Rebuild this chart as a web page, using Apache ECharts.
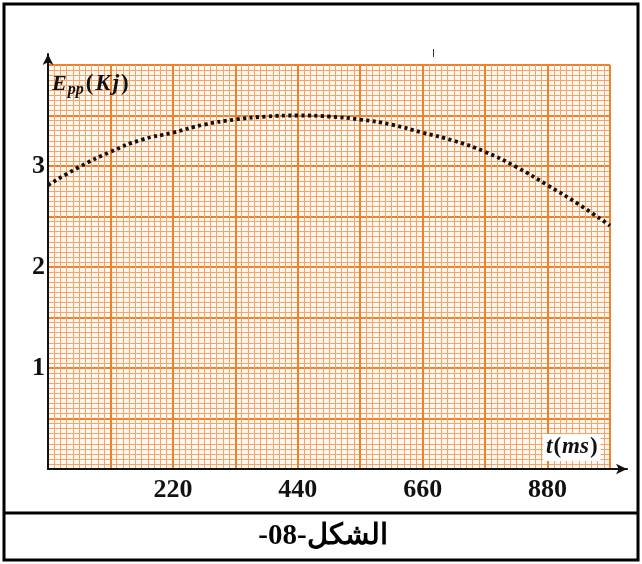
<!DOCTYPE html>
<html>
<head>
<meta charset="utf-8">
<script src="https://cdn.jsdelivr.net/npm/echarts@6/dist/echarts.min.js"></script>
<style>
  html, body { margin: 0; padding: 0; background: #ffffff; }
  #chart { width: 642px; height: 564px; }
</style>
</head>
<body>
<div id="chart"></div>
<script>
// ---- data ----
const times = [0, 55, 110, 165, 220, 275, 330, 385, 440, 495, 550, 605, 660, 715, 770, 825, 880, 935, 990];
const energy = [2.81, 2.99, 3.14, 3.26, 3.33, 3.41, 3.46, 3.49, 3.50, 3.49, 3.46, 3.41, 3.33, 3.25, 3.14, 2.99, 2.81, 2.62, 2.41];
const xTickLabels = [220, 440, 660, 880];
const yTickLabels = [1, 2, 3];
const figureCaption = '-08-الشكل';

const points = times.map((t, i) => [t, energy[i]]);

const MAJOR = '#ee8228';
const MINOR = '#f3a466';
const serif = '"Liberation Serif", "DejaVu Serif", serif';

const chart = echarts.init(document.getElementById('chart'), null, { renderer: 'canvas' });

const it = (size, extra) => Object.assign({ fontFamily: serif, fontStyle: 'italic', fontWeight: 'bold', fontSize: size, fill: '#111' }, extra || {});
const up = (size, extra) => Object.assign({ fontFamily: serif, fontWeight: 'bold', fontSize: size, fill: '#111' }, extra || {});

chart.setOption({
  animation: false,
  backgroundColor: '#ffffff',
  grid: [
    { left: 48, right: 32, top: 65, bottom: 95, containLabel: false,
      show: true, backgroundColor: '#fff7f0', borderWidth: 0 },
    { left: 48, right: 15, top: 54, bottom: 95, containLabel: false }
  ],
  xAxis: [
    {
      type: 'value', gridIndex: 0, min: 0, max: 990, interval: 110,
      axisLine: { show: false },
      axisTick: { show: false },
      axisLabel: {
        show: true, margin: 8, color: '#111',
        fontFamily: serif, fontWeight: 'bold', fontSize: 26,
        formatter: v => xTickLabels.indexOf(v) >= 0 ? String(v) : ''
      },
      splitLine: { show: true, lineStyle: { color: MAJOR, width: 2 } },
      minorTick: { show: false, splitNumber: 10 },
      minorSplitLine: { show: true, lineStyle: { color: MINOR, width: 1 } }
    },
    {
      type: 'value', gridIndex: 1, min: 0, max: 1,
      axisLine: { show: true, onZero: false, symbol: ['none', 'arrow'], symbolSize: [8, 11],
                  lineStyle: { color: '#111', width: 2 } },
      axisTick: { show: false }, axisLabel: { show: false },
      splitLine: { show: false }, minorSplitLine: { show: false }, z: 10
    }
  ],
  yAxis: [
    {
      type: 'value', gridIndex: 0, min: 0, max: 4, interval: 0.5,
      axisLine: { show: false },
      axisTick: { show: false },
      axisLabel: {
        show: true, margin: 3, color: '#111',
        fontFamily: serif, fontWeight: 'bold', fontSize: 26,
        formatter: v => yTickLabels.indexOf(v) >= 0 ? String(v) : ''
      },
      splitLine: { show: true, lineStyle: { color: MAJOR, width: 2 } },
      minorTick: { show: false, splitNumber: 10 },
      minorSplitLine: { show: true, lineStyle: { color: MINOR, width: 1 } }
    },
    {
      type: 'value', gridIndex: 1, min: 0, max: 1,
      axisLine: { show: true, onZero: false, symbol: ['none', 'arrow'], symbolSize: [8, 11],
                  lineStyle: { color: '#111', width: 2 } },
      axisTick: { show: false }, axisLabel: { show: false },
      splitLine: { show: false }, minorSplitLine: { show: false }, z: 10
    }
  ],
  series: [
    {
      type: 'line', xAxisIndex: 0, yAxisIndex: 0,
      data: points, smooth: true, showSymbol: false, z: 5,
      lineStyle: { color: '#111', width: 3.8, type: [3.2, 3.3], cap: 'butt' }
    }
  ],
  graphic: [
    { type: 'rect', shape: { x: 4, y: 4, width: 634, height: 556 },
      style: { fill: 'none', stroke: '#000', lineWidth: 3 }, z: 100 },
    { type: 'line', shape: { x1: 4, y1: 513, x2: 638, y2: 513 },
      style: { stroke: '#000', lineWidth: 3 }, z: 100 },
    { type: 'line', shape: { x1: 433.5, y1: 49, x2: 433.5, y2: 57 },
      style: { stroke: '#333', lineWidth: 1 }, z: 100 },
    { type: 'text', x: 52, y: 70, z: 100,
      style: {
        text: '{e|E}{s|pp}{p|(}{k|K}{j|j}{q|)}',
        rich: {
          e: it(22),
          s: it(16, { padding: [12, 2, 0, 1] }),
          p: up(23, { padding: [0, 2, 0, 0] }),
          k: it(23, { padding: [0, 1, 0, 0] }),
          j: it(23, { padding: [0, 2, 0, 1] }),
          q: up(23)
        }
      }
    },
    { type: 'text', x: 543, y: 434, z: 100,
      style: {
        text: '{t|t}{p|(}{m|ms}{q|)}',
        backgroundColor: '#ffffff', padding: [2, 3, 2, 3],
        rich: {
          t: it(23, { padding: [0, 1, 0, 0] }),
          p: up(23, { padding: [0, 1, 0, 0] }),
          m: it(23, { padding: [0, 1, 0, 0] }),
          q: up(23)
        }
      }
    },
    { type: 'text', x: 323, y: 537, z: 100,
      style: {
        text: figureCaption, fontFamily: serif, fontWeight: 'bold', fontSize: 29,
        fill: '#000', align: 'center', verticalAlign: 'middle'
      }
    }
  ]
});
</script>
</body>
</html>
